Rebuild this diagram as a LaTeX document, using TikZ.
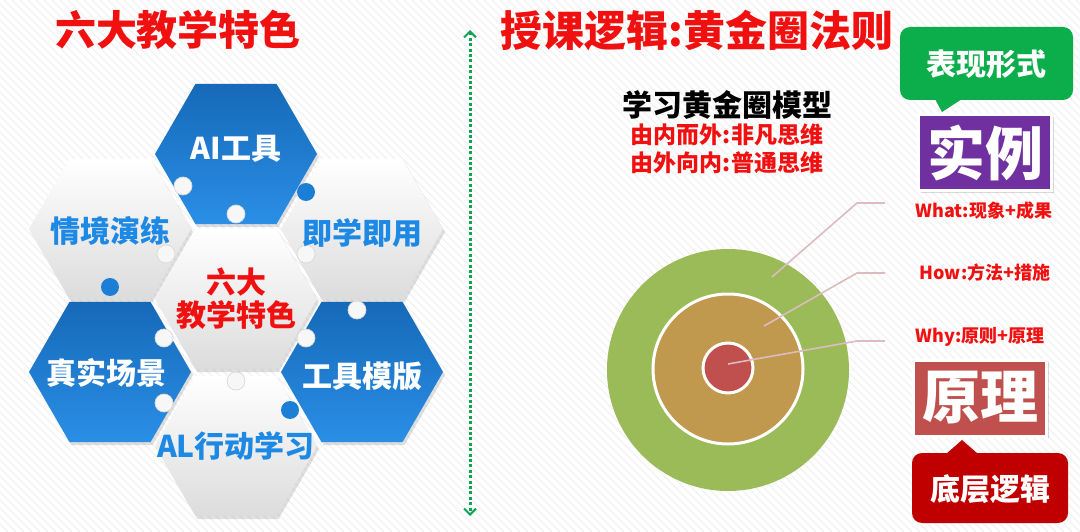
\documentclass[tikz,border=0pt]{standalone}
\usepackage{fontspec}
\newfontfamily\cjk{Noto Sans CJK SC}
\usetikzlibrary{arrows.meta,shadows}
\definecolor{hexblue}{HTML}{1C7FD6}
\definecolor{hexblueD}{HTML}{1669B8}
\definecolor{hexblueL}{HTML}{2A8FE6}
\definecolor{txtblue}{HTML}{1E88E5}
\definecolor{titlered}{HTML}{F01010}
\definecolor{ringG}{HTML}{9BBB59}
\definecolor{ringT}{HTML}{C0984E}
\definecolor{ringR}{HTML}{C0504D}
\definecolor{leader}{HTML}{DDBCC0}
\definecolor{calloutG}{HTML}{0CAE4C}
\definecolor{boxP}{HTML}{7030A0}
\definecolor{calloutR}{HTML}{C00000}
\definecolor{arrowG}{HTML}{12A352}
\definecolor{knobL}{HTML}{DCDCDC}
\newcommand{\hexpath}[1]{(#1) ++(81,0) -- ++(-40.5,70.15) -- ++(-81,0) -- ++(-40.5,-70.15) -- ++(40.5,-70.15) -- ++(81,0) -- cycle}
\begin{document}
\begin{tikzpicture}[x=1pt,y=-1pt,
  fs/.style={font=\cjk\bfseries\fontsize{#1}{#1}\selectfont},
  hexshadow/.style={drop shadow={shadow xshift=2pt,shadow yshift=-3pt,opacity=0.25}},
  hexB/.style={hexshadow, top color=hexblueD, bottom color=hexblueL},
  hexL/.style={hexshadow, top color=white, bottom color=knobL},
  tB/.style={text=white, fs=30, align=center},
  tL/.style={text=txtblue, fs=30, align=center},
  knobB/.style={circle, fill=hexblue, minimum size=18pt, inner sep=0pt},
  knobW/.style={circle, fill=white!94!gray, draw=gray!30, line width=0.7pt, minimum size=18pt, inner sep=0pt},
  leadline/.style={leader, line width=1.6pt},
  ringlabel/.style={text=titlered, fs=18, anchor=center},
  bigbox/.style={draw=white, line width=3pt, minimum width=133pt, minimum height=76pt, inner sep=0pt, text=white, fs=58,
     drop shadow={shadow xshift=2pt,shadow yshift=-2pt,opacity=0.3}},
]
% background with faint hatch
\fill[white] (0,0) rectangle (1080,532);
\useasboundingbox (0,0) rectangle (1080,532);
\begin{scope}
\clip (0,0) rectangle (1080,532);
\foreach \i in {-540,-532,...,1080} {
  \draw[black!5, line width=1.2pt] (\i,0) -- (\i+532,532);
}
\end{scope}

% titles
\node[fs=41, text=titlered] (t1) at (178,30) {六大教学特色};
\node[fs=42, text=titlered] (t2) at (697,30) {授课逻辑:黄金圈法则};

% divider
\coordinate (dtop) at (470,30);
\coordinate (dbot) at (470,516);
\draw[arrowG, line width=3pt, dash pattern=on 3pt off 2.4pt, {Straight Barb[length=6pt,width=12pt,line width=2pt]}-{Straight Barb[length=6pt,width=12pt,line width=2pt]}] (dtop) -- (dbot);

% hexagons
\coordinate (cai) at (236,154);
\coordinate (cqj) at (110,229);
\coordinate (cjx) at (362,229);
\coordinate (ccen) at (236,299);
\coordinate (czs) at (110,372);
\coordinate (cgj) at (362,372);
\coordinate (cal) at (236,446);
\path[hexB] \hexpath{cai};
\path[hexL] \hexpath{cqj};
\path[hexL] \hexpath{cjx};
\path[hexL] \hexpath{ccen};
\path[hexB] \hexpath{czs};
\path[hexB] \hexpath{cgj};
\path[hexL] \hexpath{cal};

% puzzle knobs
\node[knobW] (k1) at (236,214) {};
\node[knobW] (k2) at (183,186) {};
\node[knobB] (k3) at (306,192) {};
\node[knobW] (k4) at (166,254) {};
\node[knobW] (k5) at (306,254) {};
\node[knobB] (k6) at (110,287) {};
\node[knobW] (k7) at (357,310) {};
\node[knobW] (k8) at (164,338) {};
\node[knobW] (k9) at (306,338) {};
\node[knobW] (k10) at (236,381) {};
\node[knobW] (k11) at (164,403) {};
\node[knobB] (k12) at (290,410) {};

% hexagon texts
\node[tB] (ai) at (236,149) {AI工具};
\node[tL] (qj) at (110,231) {情境演练};
\node[tL] (jx) at (362,233) {即学即用};
\node[text=titlered, fs=30, align=center] (cen) at (236,299) {六大\\[3pt]教学特色};
\node[tB] (zs) at (106,373) {真实场景};
\node[tB] (gj) at (362,376) {工具模版};
\node[tL] (al) at (236,446) {AL行动学习};

% golden circle
\node[fs=30, text=black] (gt) at (727,105) {学习黄金圈模型};
\node[fs=23, text=titlered] (g1) at (727,135) {由内而外:非凡思维};
\node[fs=23, text=titlered] (g2) at (727,163) {由外向内:普通思维};

\node[circle, fill=ringG, minimum size=242pt, inner sep=0pt] (outer) at (728,370) {};
\node[circle, fill=ringT, draw=white, line width=3pt, minimum size=150pt, inner sep=0pt] (mid) at (728,369) {};
\node[circle, fill=ringR, draw=white, line width=3pt, minimum size=50pt, inner sep=0pt] (inn) at (728,368) {};

\coordinate (p1) at (772,277);
\coordinate (q1) at (857,203);
\coordinate (r1) at (885,203);
\coordinate (p2) at (764,326);
\coordinate (q2) at (857,273);
\coordinate (r2) at (885,273);
\coordinate (p3) at (728,364);
\coordinate (q3) at (857,341);
\coordinate (r3) at (885,341);
\draw[leadline] (p1) -- (q1) -- (r1);
\draw[leadline] (p2) -- (q2) -- (r2);
\draw[leadline] (p3) -- (q3) -- (r3);

\node[ringlabel] (lw) at (984,211) {What:现象+成果};
\node[ringlabel] (lh) at (985,273) {How:方法+措施};
\node[ringlabel] (ly) at (980,337) {Why:原则+原理};

% right boxes
\fill[calloutG, rounded corners=10pt] (900,27) rectangle (1073,100);
\fill[calloutG] (935,99) -- (942,112) -- (962,99) -- cycle;
\node[fs=30, text=white] (bx) at (986,64) {表现形式};

\node[bigbox, fill=boxP] (sl) at (985,153) {实例};
\node[bigbox, fill=ringR] (yl) at (980,398) {原理};

\fill[calloutR, rounded corners=10pt] (912,453) rectangle (1068,523);
\fill[calloutR] (946,454) -- (962,440) -- (978,454) -- cycle;
\node[fs=30, text=white] (dc) at (990,489) {底层逻辑};
\end{tikzpicture}
\end{document}
